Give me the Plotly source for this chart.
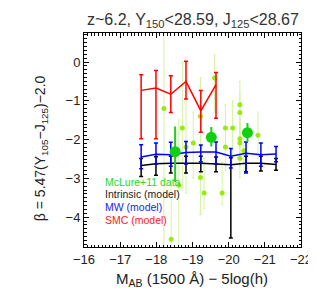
import plotly.graph_objects as go

# Model bins (M_AB)
x_model = [-17.58, -17.99, -18.40, -18.82, -19.23, -19.65, -20.06, -20.48, -20.89, -21.31]

# SMC model (first 6 bins)
smc_y = [-0.73, -0.67, -0.83, -0.50, -1.26, -0.58]
smc_up = [0.40, 0.45, 0.48, 0.52, 0.53, 0.31]
smc_dn = [1.25, 1.31, 0.47, 0.45, 0.55, 0.87]

# MW model
mw_y = [-2.45, -2.38, -2.39, -2.33, -2.32, -2.32, -2.43, -2.35, -2.39, -2.37]
mw_up = [0.32, 0.29, 0.32, 0.28, 0.18, 0.26, 0.20, 0.29, 0.30, 0.19]
mw_dn = [0.30, 0.25, 0.30, 0.30, 0.25, 0.30, 0.30, 0.51, 0.30, 0.20]

# Intrinsic model
int_y = [-2.67, -2.62, -2.61, -2.61, -2.61, -2.63, -2.65, -2.61, -2.61, -2.64]
int_up = [0.18, 0.18, 0.18, 0.18, 0.18, 0.18, 0.18, 0.18, 0.18, 0.15]
int_dn = [0.28, 0.30, 0.25, 0.25, 0.22, 0.20, 1.89, 0.22, 0.20, 0.15]

# McLure+11 individual galaxies
gal_x = [-18.21, -18.41, -18.62, -18.72, -18.82, -19.02, -19.22, -19.22, -19.32, -19.61,
         -19.82, -19.91, -19.91, -20.11, -20.31, -20.31, -20.31, -20.31, -20.42, -20.31, -20.81]
gal_y = [-1.20, -4.57, -3.18, -1.70, -2.19, -2.09, -1.40, -2.98, -3.38, -0.41,
         -3.38, -1.70, -2.19, -1.70, -1.10, -1.30, -1.98, -2.09, -2.29, -2.48, -1.89]
gal_up = [3.00, 1.50, 1.69, 1.70, 1.22, 0.80, 1.00, 0.80, 0.90, 0.60,
          0.80, 0.60, 0.50, 0.70, 0.60, 0.50, 0.50, 0.50, 0.50, 0.40, 0.60]
gal_dn = [3.60, 0.30, 1.60, 1.60, 1.20, 0.90, 2.50, 0.96, 0.40, 0.90,
          0.30, 0.70, 0.60, 0.70, 0.70, 0.60, 0.60, 0.60, 0.50, 0.50, 0.60]

# McLure+11 stacked bins
stk_x = [-18.52, -19.52, -20.52]
stk_y = [-2.31, -1.94, -1.82]
stk_up = [0.62, 0.24, 0.22]
stk_dn = [0.76, 0.21, 0.21]

FONT = "Liberation Sans"

fig = go.Figure()

fig.add_trace(go.Scatter(
    x=gal_x, y=gal_y, mode="markers",
    marker=dict(color="#99ea10", size=5),
    error_y=dict(type="data", symmetric=False, array=gal_up, arrayminus=gal_dn,
                 color="#d2f5a0", thickness=1, width=1),
    showlegend=False))

fig.add_trace(go.Scatter(
    x=x_model, y=int_y, mode="lines",
    line=dict(color="black", width=1.5),
    error_y=dict(type="data", symmetric=False, array=int_up, arrayminus=int_dn,
                 color="black", thickness=1.5, width=2),
    showlegend=False))

fig.add_trace(go.Scatter(
    x=x_model, y=mw_y, mode="lines",
    line=dict(color="#0000ff", width=1.5),
    error_y=dict(type="data", symmetric=False, array=mw_up, arrayminus=mw_dn,
                 color="#0000ff", thickness=1.5, width=2),
    showlegend=False))

fig.add_trace(go.Scatter(
    x=x_model[:6], y=smc_y, mode="lines",
    line=dict(color="#ff0000", width=1.5),
    error_y=dict(type="data", symmetric=False, array=smc_up, arrayminus=smc_dn,
                 color="#ff0000", thickness=1.5, width=2),
    showlegend=False))

fig.add_trace(go.Scatter(
    x=stk_x, y=stk_y, mode="markers",
    marker=dict(color="#10d010", size=11),
    error_y=dict(type="data", symmetric=False, array=stk_up, arrayminus=stk_dn,
                 color="#22cc22", thickness=2, width=1),
    showlegend=False))

axis_common = dict(
    showgrid=False, zeroline=False, showline=True, linecolor="black", linewidth=1,
    mirror="ticks", ticks="inside", ticklen=5, tickcolor="black",
    tickfont=dict(family=FONT, size=13, color="#222222"),
)

fig.update_xaxes(range=[-16, -22], dtick=1, tick0=-16,
                 minor=dict(dtick=0.1, ticks="inside", ticklen=2.5, tickcolor="black"),
                 **axis_common)
fig.update_yaxes(range=[-4.77, 0.75], dtick=1, tick0=0,
                 minor=dict(dtick=0.1, ticks="inside", ticklen=2.5, tickcolor="black"),
                 **axis_common)

annotations = [
    dict(text="z~6.2, Y<sub>150</sub><28.59, J<sub>125</sub><28.67",
         x=(185 - 76) / 217, y=1 + (25 - 13) / 214,
         xref="paper", yref="paper", showarrow=False, xanchor="center", yanchor="middle",
         font=dict(family=FONT, size=16, color="#333333")),
    dict(text="M<sub>AB</sub> (1500 Å) − 5log(h)", x=(184 - 76) / 217, y=-0.098,
         xref="paper", yref="paper", showarrow=False, xanchor="center", yanchor="top",
         font=dict(family=FONT, size=15, color="#222222")),
    dict(text="β = 5.47(Y<sub>105</sub>−J<sub>125</sub>)−2.0", x=-0.2, y=0.46,
         xref="paper", yref="paper", showarrow=False, textangle=-90,
         xanchor="center", yanchor="middle",
         font=dict(family=FONT, size=14, color="#222222")),
]
legend_items = [("McLure+11 data", "#22dd22"), ("Intrinsic (model)", "#222222"),
                ("MW (model)", "#1a1aff"), ("SMC (model)", "#ff2020")]
for i, (t, c) in enumerate(legend_items):
    annotations.append(dict(text=t, x=0.087, y=0.305 - i * 0.059, xref="paper", yref="paper",
                            showarrow=False, xanchor="left", yanchor="middle",
                            font=dict(family=FONT, size=10.5, color=c)))

fig.update_layout(
    width=316, height=288,
    margin=dict(l=76, r=23, t=25, b=49),
    paper_bgcolor="white", plot_bgcolor="white",
    annotations=annotations,
    showlegend=False,
)

fig.write_html("out.html")
